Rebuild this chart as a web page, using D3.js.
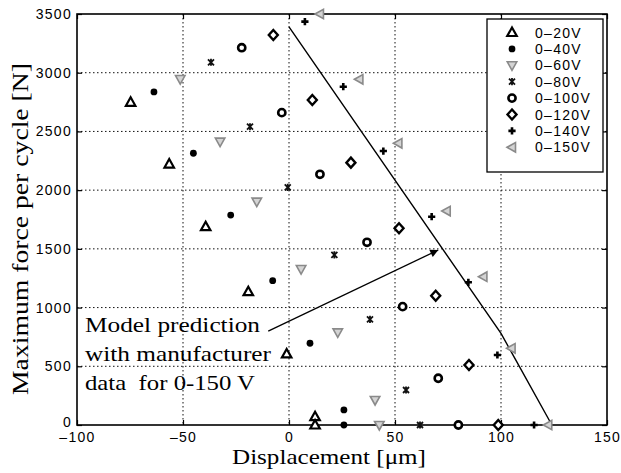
<!DOCTYPE html>
<html>
<head>
<meta charset="utf-8">
<script src="https://cdn.jsdelivr.net/npm/d3@7"></script>
<style>
  body { margin: 0; background: #fff; }
  svg { display: block; }
  .tick text, .legend text {
    font-family: "Liberation Sans", Arial, Helvetica, sans-serif;
    font-size: 14px;
    letter-spacing: 1.3px;
    fill: #000;
  }
  .serif { font-family: "Liberation Serif", "Times New Roman", serif; fill: #000; }
</style>
</head>
<body>
<svg id="chart" width="621" height="473"></svg>
<script>
// Measured force/displacement pairs, one pair of arrays per drive voltage range
const seriesNames = ["0\u201320V", "0\u201340V", "0\u201360V", "0\u201380V", "0\u2013100V", "0\u2013120V", "0\u2013140V", "0\u2013150V"];

const disp20  = [-74.7, -56.5, -39.3, -19.2, -1.1, 12.3, 12.3];
const force20 = [2748, 2222, 1689, 1135, 605, 71, 0];

const disp40  = [-63.7, -45.1, -27.5, -7.7, 9.9, 25.9, 25.9];
const force40 = [2836, 2314, 1788, 1229, 696, 128, 0];

const disp60  = [-51.3, -32.5, -15.2, 5.7, 23.0, 40.6, 42.6];
const force60 = [2946, 2413, 1902, 1328, 789, 213, 0];

const disp80  = [-36.8, -18.4, -0.6, 21.4, 38.2, 55.2, 61.8];
const force80 = [3089, 2540, 2024, 1448, 900, 298, 0];

const disp100  = [-22.3, -3.4, 14.6, 36.8, 53.6, 70.4, 79.9];
const force100 = [3213, 2660, 2135, 1556, 1008, 398, 0];

const disp120  = [-7.4, 11.0, 29.2, 51.9, 69.2, 84.9, 98.7];
const force120 = [3321, 2768, 2234, 1675, 1101, 511, 0];

const disp140  = [7.5, 25.6, 44.5, 67.3, 84.6, 98.3, 115.6];
const force140 = [3435, 2881, 2333, 1774, 1215, 596, 0];

const disp150  = [14.6, 33.2, 51.6, 74.4, 91.7, 105.0, 122.3];
const force150 = [3500, 2944, 2399, 1822, 1263, 653, 0];

// Model prediction (manufacturer data, 0-150 V)
const modelDisp  = [0, 100, 124];
const modelForce = [3390, 780, 0];

// Annotation arrow: tail and head in data units
const arrowDisp  = [-9.8, 70.4];
const arrowForce = [800, 1490];

const xTicks = [-100, -50, 0, 50, 100, 150];
const yTicks = [0, 500, 1000, 1500, 2000, 2500, 3000, 3500];

const dispSeries  = [disp20, disp40, disp60, disp80, disp100, disp120, disp140, disp150];
const forceSeries = [force20, force40, force60, force80, force100, force120, force140, force150];

// ---- layout ----
const svg = d3.select("#chart");
const plotL = 77, plotR = 607, plotT = 14, plotB = 425;

const x = d3.scaleLinear().domain([-100, 150]).range([plotL, plotR]);
const y = d3.scaleLinear().domain([0, 3500]).range([plotB, plotT]);

const fmt = d => d < 0 ? "\u2013" + Math.abs(d) : String(d);

// grid (dotted)
const grid = svg.append("g").attr("stroke", "#111").attr("stroke-width", 1)
  .attr("stroke-dasharray", "1.5,2.5");
grid.selectAll("line.gx").data(xTicks.slice(1, -1)).join("line").attr("class", "gx")
  .attr("x1", d => x(d)).attr("x2", d => x(d)).attr("y1", plotT).attr("y2", plotB);
grid.selectAll("line.gy").data(yTicks.slice(1, -1)).join("line").attr("class", "gy")
  .attr("y1", d => y(d)).attr("y2", d => y(d)).attr("x1", plotL).attr("x2", plotR);

// axes with inward ticks on all four sides
const axB = svg.append("g").attr("transform", `translate(0,${plotB})`)
  .call(d3.axisBottom(x).tickValues(xTicks).tickSize(-5).tickPadding(7).tickFormat(fmt));
const axL = svg.append("g").attr("transform", `translate(${plotL},0)`)
  .call(d3.axisLeft(y).tickValues(yTicks).tickSize(-5).tickPadding(5).tickFormat(fmt));
const axT = svg.append("g").attr("transform", `translate(0,${plotT})`)
  .call(d3.axisTop(x).tickValues(xTicks).tickSize(-5).tickFormat(""));
const axR = svg.append("g").attr("transform", `translate(${plotR},0)`)
  .call(d3.axisRight(y).tickValues(yTicks).tickSize(-5).tickFormat(""));
[axB, axL, axT, axR].forEach(a => {
  a.select(".domain").remove();
  a.selectAll(".tick line").attr("stroke", "#000").attr("stroke-width", 1.2);
});
// the zero force label sits just above the corner
axL.selectAll(".tick").filter(d => d === 0).select("text").attr("dy", "0.1em");

// frame
svg.append("rect").attr("x", plotL).attr("y", plotT)
  .attr("width", plotR - plotL).attr("height", plotB - plotT)
  .attr("fill", "none").attr("stroke", "#000").attr("stroke-width", 1.6);

// model prediction line
svg.append("path")
  .datum(modelDisp.map((d, i) => [d, modelForce[i]]))
  .attr("d", d3.line().x(d => x(d[0])).y(d => y(d[1])))
  .attr("fill", "none").attr("stroke", "#000").attr("stroke-width", 1.4);

// marker drawing
const triPath = (s, rot) => {
  const pts = [[0, -s], [s * 0.95, s * 0.7], [-s * 0.95, s * 0.7]];
  const a = rot * Math.PI / 180;
  return "M" + pts.map(([px, py]) => [px * Math.cos(a) - py * Math.sin(a), px * Math.sin(a) + py * Math.cos(a)]
    .map(v => v.toFixed(2)).join(",")).join("L") + "Z";
};
const markers = [
  g => g.append("path").attr("d", triPath(5, 0)).attr("fill", "#fff").attr("stroke", "#000").attr("stroke-width", 2.2).attr("stroke-linejoin", "miter"),
  g => g.append("circle").attr("r", 3.4).attr("fill", "#000"),
  g => g.append("path").attr("d", triPath(5, 180)).attr("fill", "#d4d4d4").attr("stroke", "#8a8a8a").attr("stroke-width", 1.6),
  g => g.append("path").attr("d", "M-3,-3L3,3M-3,3L3,-3M0,-3.6V3.6").attr("stroke", "#111").attr("stroke-width", 1.8),
  g => g.append("circle").attr("r", 3.6).attr("fill", "#fff").attr("stroke", "#000").attr("stroke-width", 2.6),
  g => g.append("path").attr("d", "M0,-5L4.5,0L0,5L-4.5,0Z").attr("fill", "#fff").attr("stroke", "#000").attr("stroke-width", 2.4),
  g => g.append("path").attr("d", "M-3.6,0H3.6M0,-3.6V3.6").attr("stroke", "#000").attr("stroke-width", 2.6),
  g => g.append("path").attr("d", triPath(5, -90)).attr("fill", "#d4d4d4").attr("stroke", "#8a8a8a").attr("stroke-width", 1.6)
];

dispSeries.forEach((ds, si) => {
  const pts = ds.map((d, i) => [d, forceSeries[si][i]]);
  svg.append("g").selectAll("g").data(pts).join("g")
    .attr("transform", d => `translate(${x(d[0])},${y(d[1])})`)
    .each(function () { markers[si](d3.select(this)); });
});

// legend
const lg = svg.append("g").attr("class", "legend");
lg.append("rect").attr("x", 487).attr("y", 19).attr("width", 116).attr("height", 153)
  .attr("fill", "#fff").attr("stroke", "#000").attr("stroke-width", 1.3);
seriesNames.forEach((name, i) => {
  const cy = 32.5 + i * 16.4;
  const g = lg.append("g").attr("transform", `translate(512,${cy})`);
  markers[i](g);
  lg.append("text").attr("x", 535).attr("y", cy).attr("dy", "0.36em").text(name);
});

// annotation arrow
const defs = svg.append("defs");
defs.append("marker").attr("id", "head").attr("viewBox", "0 0 10 10")
  .attr("refX", 10).attr("refY", 5).attr("markerWidth", 12).attr("markerHeight", 8)
  .attr("markerUnits", "userSpaceOnUse").attr("orient", "auto")
  .append("path").attr("d", "M0,0L10,5L0,10Z").attr("fill", "#000");
svg.append("line")
  .attr("x1", x(arrowDisp[0])).attr("y1", y(arrowForce[0]))
  .attr("x2", x(arrowDisp[1])).attr("y2", y(arrowForce[1]))
  .attr("stroke", "#000").attr("stroke-width", 1.3).attr("marker-end", "url(#head)");

const note = ["Model prediction", "with manufacturer", "data\u00a0 for 0-150 V"];
const noteLen = [175, 186, 170];
note.forEach((t, i) => {
  svg.append("text").attr("class", "serif")
    .attr("x", 85).attr("y", 331.5 + i * 29)
    .attr("font-size", 22)
    .attr("textLength", noteLen[i]).attr("lengthAdjust", "spacingAndGlyphs")
    .text(t);
});

// axis titles
svg.append("text").attr("class", "serif")
  .attr("x", 232).attr("y", 464).attr("font-size", 22)
  .attr("textLength", 194).attr("lengthAdjust", "spacingAndGlyphs")
  .text("Displacement [\u03bcm]");
svg.append("text").attr("class", "serif")
  .attr("transform", "translate(28,395) rotate(-90)")
  .attr("x", 0).attr("y", 0).attr("font-size", 23)
  .attr("textLength", 332).attr("lengthAdjust", "spacingAndGlyphs")
  .text("Maximum force per cycle [N]");
</script>
</body>
</html>
